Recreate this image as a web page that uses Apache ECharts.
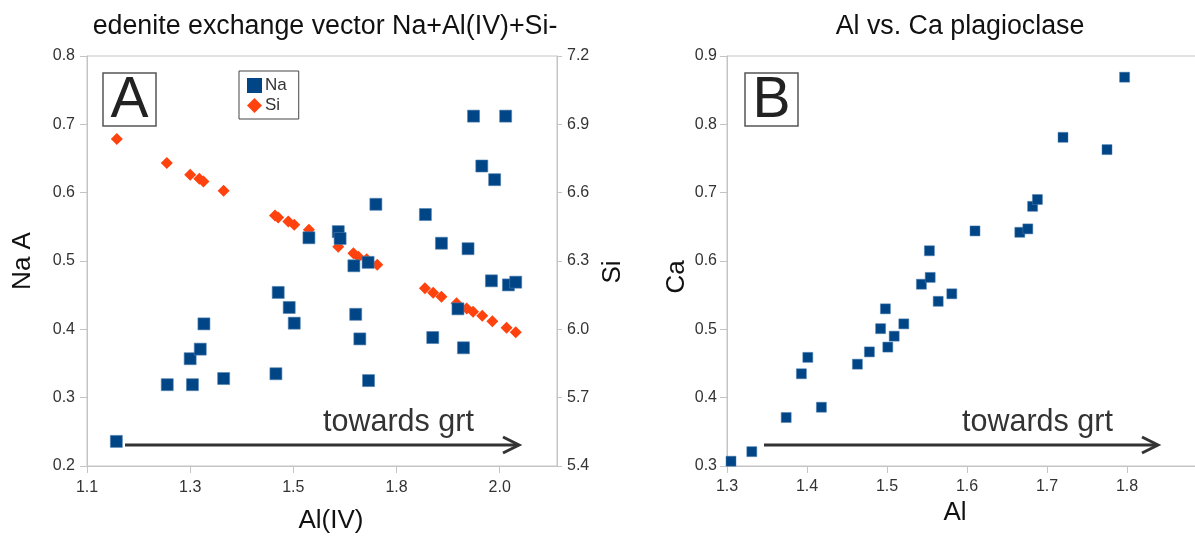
<!DOCTYPE html>
<html>
<head>
<meta charset="utf-8">
<script src="https://cdn.jsdelivr.net/npm/echarts@6/dist/echarts.min.js"></script>
<style>
  html, body { margin: 0; padding: 0; background: #ffffff; }
  #chart { width: 1195px; height: 536px; }
</style>
</head>
<body>
<div id="chart"></div>
<script>
// Panel A: amphibole A-site Na and Si against tetrahedral Al
const naAlIV = [1.164, 1.275, 1.325, 1.330, 1.347, 1.355, 1.398, 1.512, 1.517, 1.541, 1.552, 1.584,
                1.648, 1.652, 1.682, 1.686, 1.695, 1.713, 1.714, 1.730, 1.838, 1.854, 1.873, 1.909,
                1.921, 1.931, 1.943, 1.961, 1.982, 1.989, 2.013, 2.019, 2.035];
const naA    = [0.236, 0.319, 0.357, 0.319, 0.371, 0.408, 0.328, 0.335, 0.454, 0.432, 0.409, 0.534,
                0.543, 0.533, 0.493, 0.422, 0.386, 0.498, 0.325, 0.583, 0.568, 0.388, 0.526, 0.430,
                0.373, 0.518, 0.712, 0.639, 0.471, 0.619, 0.712, 0.465, 0.469];

const siAlIV = [1.165, 1.274, 1.325, 1.345, 1.354, 1.398, 1.510, 1.517, 1.539, 1.552, 1.584, 1.648,
                1.681, 1.692, 1.710, 1.733, 1.837, 1.855, 1.873, 1.906, 1.928, 1.942, 1.962, 1.984,
                2.015, 2.035];
const si     = [6.836, 6.730, 6.679, 6.661, 6.649, 6.608, 6.500, 6.491, 6.473, 6.459, 6.437, 6.363,
                6.334, 6.319, 6.308, 6.283, 6.180, 6.161, 6.143, 6.114, 6.092, 6.077, 6.060, 6.036,
                6.007, 5.987];

// Al(IV) axis: five evenly spaced ticks carrying one-decimal labels
const alIVTicks  = [1.1, 1.325, 1.55, 1.775, 2.0];
const alIVLabels = ['1.1', '1.3', '1.5', '1.8', '2.0'];

// Panel B: plagioclase Ca against Al
const plagAl = [1.305, 1.331, 1.374, 1.393, 1.401, 1.418, 1.463, 1.478, 1.492, 1.498, 1.501, 1.509,
                1.521, 1.543, 1.553, 1.554, 1.564, 1.581, 1.610, 1.666, 1.676, 1.682, 1.688, 1.720,
                1.775, 1.797];
const plagCa = [0.307, 0.321, 0.371, 0.435, 0.459, 0.386, 0.449, 0.467, 0.501, 0.530, 0.474, 0.490,
                0.508, 0.566, 0.615, 0.576, 0.541, 0.552, 0.644, 0.642, 0.647, 0.680, 0.690, 0.781,
                0.763, 0.869];

const FONT = 'Liberation Sans';
const BLUE = '#004586';
const ORANGE = '#ff420e';
const FRAME = '#c4c4c4';
const INK = '#333333';

const zip = (xs, ys) => xs.map((x, i) => [x, ys[i]]);

const tickStyle = { color: INK, fontSize: 16, fontFamily: FONT };
const nameStyle = (padding) => ({ color: '#111', fontSize: 26, fontFamily: FONT, padding });

function valueAxis(extra) {
  return Object.assign({
    type: 'value',
    axisLine: { show: true, lineStyle: { color: FRAME, width: 1 } },
    axisTick: { show: true, inside: false, length: 7, lineStyle: { color: FRAME } },
    splitLine: { show: false },
    axisLabel: Object.assign({ margin: 11 }, tickStyle),
    nameTextStyle: nameStyle(0),
    nameLocation: 'middle'
  }, extra);
}

const fmt1 = v => v.toFixed(1);

const chart = echarts.init(document.getElementById('chart'), null, { renderer: 'canvas' });

chart.setOption({
  animation: false,
  backgroundColor: '#ffffff',
  textStyle: { fontFamily: FONT },
  title: [
    { text: 'edenite exchange vector Na+Al(IV)+Si-', left: 320, top: 8, textAlign: 'center',
      textStyle: { fontSize: 26.8, fontWeight: 'normal', color: '#111', fontFamily: FONT } },
    { text: 'Al vs. Ca plagioclase', left: 955, top: 8, textAlign: 'center',
      textStyle: { fontSize: 26.8, fontWeight: 'normal', color: '#111', fontFamily: FONT } }
  ],
  legend: {
    left: 239, top: 71,
    orient: 'vertical',
    padding: [6, 12, 5, 8],
    itemGap: 3,
    itemWidth: 15, itemHeight: 15,
    itemStyle: { borderWidth: 0 },
    borderColor: '#444', borderWidth: 1,
    textStyle: { fontSize: 17, color: INK, fontFamily: FONT, padding: [0, 0, 0, -2] },
    data: [{ name: 'Na', icon: 'rect' }, { name: 'Si', icon: 'diamond' }]
  },
  grid: [
    { left: 87, top: 56, width: 470, height: 410, outerBoundsMode: 'none', containLabel: false,
      show: true, borderColor: FRAME, borderWidth: 1, backgroundColor: 'transparent' },
    { left: 727, top: 56, width: 480, height: 410, outerBoundsMode: 'none', containLabel: false,
      show: true, borderColor: FRAME, borderWidth: 1, backgroundColor: 'transparent' }
  ],
  xAxis: [
    valueAxis({
      gridIndex: 0, min: 1.1, max: 2.125,
      name: 'Al(IV)', nameGap: 42, nameTextStyle: nameStyle([0, 0, 0, 18]),
      axisTick: { show: true, length: 7, lineStyle: { color: FRAME }, customValues: alIVTicks },
      axisLabel: Object.assign({ margin: 14, customValues: alIVTicks,
        formatter: v => alIVLabels[alIVTicks.findIndex(t => Math.abs(t - v) < 1e-6)] ?? '' }, tickStyle)
    }),
    valueAxis({
      gridIndex: 1, min: 1.3, max: 1.9, interval: 0.1,
      name: 'Al', nameGap: 29, nameTextStyle: nameStyle([0, 24, 0, 0]),
      axisLabel: Object.assign({ margin: 13, formatter: fmt1 }, tickStyle)
    })
  ],
  yAxis: [
    valueAxis({
      gridIndex: 0, min: 0.2, max: 0.8, interval: 0.1, position: 'left',
      name: 'Na A', nameGap: 51,
      axisLabel: Object.assign({ margin: 12, formatter: fmt1 }, tickStyle)
    }),
    valueAxis({
      gridIndex: 0, min: 5.4, max: 7.2, interval: 0.3, position: 'right',
      name: 'Si', nameGap: 43, nameTextStyle: nameStyle([0, 22, 0, 0]),
      axisTick: { show: true, length: 5, lineStyle: { color: FRAME } },
      axisLabel: Object.assign({ margin: 10, formatter: fmt1 }, tickStyle)
    }),
    valueAxis({
      gridIndex: 1, min: 0.3, max: 0.9, interval: 0.1, position: 'left',
      name: 'Ca', nameGap: 37, nameTextStyle: nameStyle([0, 32, 0, 0]),
      axisLabel: Object.assign({ margin: 10, formatter: fmt1 }, tickStyle)
    })
  ],
  series: [
    {
      name: 'Si', type: 'scatter', xAxisIndex: 0, yAxisIndex: 1,
      symbol: 'diamond', symbolSize: 12, z: 2,
      itemStyle: { color: ORANGE, opacity: 1 },
      data: zip(siAlIV, si)
    },
    {
      name: 'Na', type: 'scatter', xAxisIndex: 0, yAxisIndex: 0,
      symbol: 'rect', symbolSize: 12, z: 3,
      itemStyle: { color: BLUE, opacity: 1, borderColor: '#4f7fb0', borderWidth: 0.6 },
      data: zip(naAlIV, naA)
    },
    {
      name: 'Ca', type: 'scatter', xAxisIndex: 1, yAxisIndex: 2,
      symbol: 'rect', symbolSize: 10,
      itemStyle: { color: BLUE, opacity: 1, borderColor: '#4f7fb0', borderWidth: 0.5 },
      data: zip(plagAl, plagCa)
    }
  ],
  graphic: [
    // panel letters
    { type: 'rect', shape: { x: 103, y: 73, width: 53, height: 53 },
      style: { fill: '#fff', stroke: '#555', lineWidth: 1.5 }, z: 10 },
    { type: 'text', x: 129.5, y: 101, z: 11,
      style: { text: 'A', fontSize: 57, fontFamily: FONT, fill: '#222', align: 'center', verticalAlign: 'middle' } },
    { type: 'rect', shape: { x: 745, y: 73, width: 53, height: 53 },
      style: { fill: '#fff', stroke: '#555', lineWidth: 1.5 }, z: 10 },
    { type: 'text', x: 771.5, y: 101, z: 11,
      style: { text: 'B', fontSize: 57, fontFamily: FONT, fill: '#222', align: 'center', verticalAlign: 'middle' } },

    // trend arrows
    { type: 'line', shape: { x1: 125, y1: 445, x2: 518, y2: 445 }, style: { stroke: INK, lineWidth: 3 }, z: 10 },
    { type: 'polyline', shape: { points: [[503, 437], [519, 445], [503, 453]] },
      style: { stroke: INK, lineWidth: 3, fill: null }, z: 10 },
    { type: 'text', x: 323, y: 423, z: 11,
      style: { text: 'towards grt', fontSize: 30.5, fontFamily: FONT, fill: INK, align: 'left', verticalAlign: 'middle' } },

    { type: 'line', shape: { x1: 764, y1: 445, x2: 1157, y2: 445 }, style: { stroke: INK, lineWidth: 3 }, z: 10 },
    { type: 'polyline', shape: { points: [[1142, 437], [1158, 445], [1142, 453]] },
      style: { stroke: INK, lineWidth: 3, fill: null }, z: 10 },
    { type: 'text', x: 962, y: 423, z: 11,
      style: { text: 'towards grt', fontSize: 30.5, fontFamily: FONT, fill: INK, align: 'left', verticalAlign: 'middle' } }
  ]
});
</script>
</body>
</html>
